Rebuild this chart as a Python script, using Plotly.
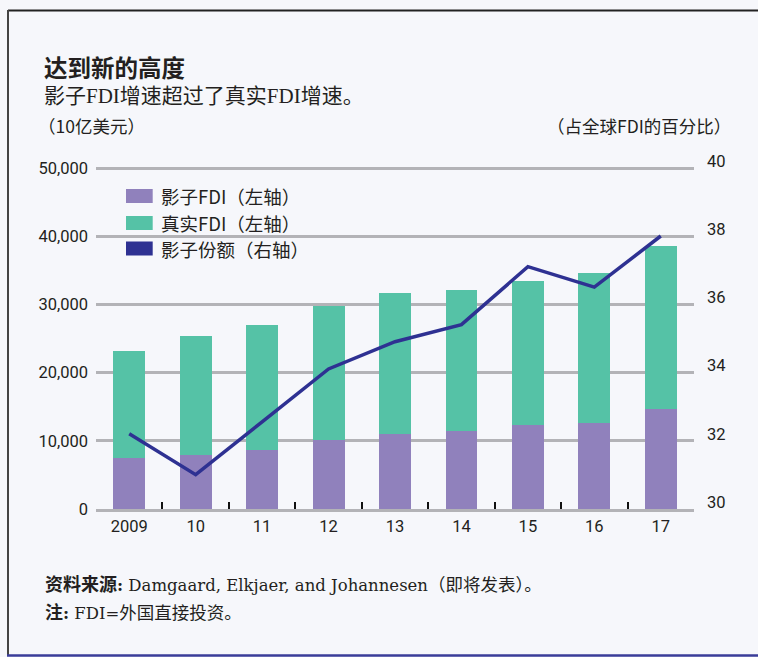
import plotly.graph_objects as go

# ---- data ----
years = ["2009", "10", "11", "12", "13", "14", "15", "16", "17"]
shadow_fdi = [7430, 7870, 8660, 10070, 11000, 11390, 12270, 12610, 14620]      # billions USD
real_fdi = [15690, 17460, 18280, 19650, 20650, 20680, 21120, 21950, 23940]     # billions USD
shadow_share = [32.0, 30.8, 32.35, 33.9, 34.7, 35.2, 36.9, 36.3, 37.8]         # % of global FDI
left_tickvals = [0, 10000, 20000, 30000, 40000, 50000]
left_ticktext = ["0", "10,000", "20,000", "30,000", "40,000", "50,000"]
right_tickvals = [30, 32, 34, 36, 38, 40]
right_ticktext = ["30", "32", "34", "36", "38", "40"]

PURPLE = "#9081bc"
GREEN = "#55c2a6"
NAVY = "#2e3192"
TEXT = "#231f20"
GRID = "#b3b3b7"
NUMFONT = "Liberation Sans Narrow, Roboto, Noto Sans, sans-serif"
CJK = "Noto Sans CJK SC, sans-serif"
SERIF = "DejaVu Serif, Liberation Serif, serif"

W, H = 758, 657
L, R, T, B = 96, 64, 161, 148
PW, PH = W - L - R, H - T - B


def px(x):
    return (x - L) / PW


def py(y):
    return (H - B - y) / PH


def cjk(s, size=18, bold=False):
    w = "font-weight:bold;" if bold else ""
    return f'<span style="font-family:Noto Sans CJK SC;font-size:{size}px;{w}">{s}</span>'


fig = go.Figure()
fig.add_trace(go.Bar(x=years, y=shadow_fdi, name="影子FDI（左轴）",
                     marker=dict(color=PURPLE, line=dict(width=0)), showlegend=False))
fig.add_trace(go.Bar(x=years, y=real_fdi, name="真实FDI（左轴）",
                     marker=dict(color=GREEN, line=dict(width=0)), showlegend=False))
fig.add_trace(go.Scatter(x=years, y=shadow_share, name="影子份额（右轴）", yaxis="y2",
                         mode="lines", line=dict(color=NAVY, width=3.5), showlegend=False))

shapes = []
annotations = []

# frame
shapes.append(dict(type="line", xref="paper", yref="paper", x0=px(8), x1=px(758), y0=py(10.5), y1=py(10.5),
                   line=dict(color="#222222", width=2)))
shapes.append(dict(type="line", xref="paper", yref="paper", x0=px(8), x1=px(8), y0=py(10), y1=py(656),
                   line=dict(color="#444444", width=2)))
shapes.append(dict(type="line", xref="paper", yref="paper", x0=px(7), x1=px(758), y0=py(655.5), y1=py(655.5),
                   line=dict(color="#3a3d99", width=2.5)))

# legend (manual)
legend_items = [("影子FDI（左轴）", PURPLE, 196), ("真实FDI（左轴）", GREEN, 223), ("影子份额（右轴）", NAVY, 248.5)]
for label, color, yc in legend_items:
    shapes.append(dict(type="rect", xref="paper", yref="paper", x0=px(126), x1=px(152.7),
                       y0=py(yc - 7), y1=py(yc + 7), fillcolor=color, line=dict(width=0)))
    annotations.append(dict(text=label, xref="paper", yref="paper", x=px(159), y=py(yc),
                            xanchor="left", yanchor="middle", showarrow=False,
                            font=dict(family=CJK, size=18.5, color=TEXT)))

# titles
annotations.append(dict(text="<b>达到新的高度</b>", xref="paper", yref="paper", x=px(42), y=py(67),
                        xanchor="left", yanchor="middle", showarrow=False,
                        font=dict(family=CJK, size=23.5, color=TEXT)))
annotations.append(dict(text="影子FDI增速超过了真实FDI增速。", xref="paper", yref="paper", x=px(42), y=py(96),
                        xanchor="left", yanchor="middle", showarrow=False,
                        font=dict(family="Liberation Serif, " + CJK, size=21, color=TEXT)))
annotations.append(dict(text="（10亿美元）", xref="paper", yref="paper", x=px(36), y=py(126),
                        xanchor="left", yanchor="middle", showarrow=False,
                        font=dict(family=CJK, size=17.5, color=TEXT)))
annotations.append(dict(text="（占全球FDI的百分比）", xref="paper", yref="paper", x=px(733), y=py(126),
                        xanchor="right", yanchor="middle", showarrow=False,
                        font=dict(family=CJK, size=17.5, color=TEXT)))

# footer
annotations.append(dict(text=cjk("资料来源", bold=True) + "<b>:</b> Damgaard, Elkjaer, and Johannesen"
                        + cjk("（即将发表）。", size=17.5),
                        xref="paper", yref="paper", x=px(43), y=py(583),
                        xanchor="left", yanchor="middle", showarrow=False,
                        font=dict(family=SERIF, size=16.5, color=TEXT)))
annotations.append(dict(text=cjk("注", bold=True) + "<b>:</b> FDI=" + cjk("外国直接投资。", size=17.5),
                        xref="paper", yref="paper", x=px(43), y=py(611),
                        xanchor="left", yanchor="middle", showarrow=False,
                        font=dict(family=SERIF, size=16.5, color=TEXT)))

fig.update_layout(
    width=W, height=H, autosize=False,
    margin=dict(l=L, r=R, t=T, b=B, pad=0),
    paper_bgcolor="#f6f7fb", plot_bgcolor="rgba(0,0,0,0)",
    barmode="stack", bargap=0.52,
    shapes=shapes, annotations=annotations,
    xaxis=dict(type="category", showgrid=False, zeroline=False,
               showline=True, linecolor=GRID, linewidth=3,
               ticks="inside", tickson="boundaries", ticklen=7, tickwidth=2, tickcolor="#111111",
               tickfont=dict(family=NUMFONT, size=16.5, color=TEXT), ticklabelstandoff=0),
    yaxis=dict(range=[0, 51028], tickvals=left_tickvals, ticktext=left_ticktext,
               showgrid=True, gridcolor=GRID, gridwidth=2.5, zeroline=False, showline=False,
               ticks="", ticklabelstandoff=7,
               tickfont=dict(family=NUMFONT, size=16.5, color=TEXT)),
    yaxis2=dict(range=[29.794, 40.0], overlaying="y", side="right",
                tickvals=right_tickvals, ticktext=right_ticktext,
                showgrid=False, zeroline=False, showline=False, ticks="", ticklabelstandoff=12,
                tickfont=dict(family=NUMFONT, size=16.5, color=TEXT)),
)

fig.write_html("out.html", config={"displayModeBar": False},
               post_script="document.body.style.margin='0';document.body.style.background='#f6f7fb';")
